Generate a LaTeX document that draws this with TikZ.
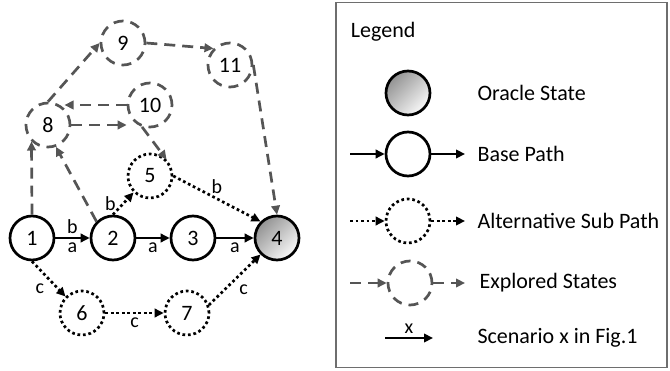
\documentclass[tikz,border=0pt]{standalone}
\usepackage{fontspec}
\setmainfont{Carlito}
\usetikzlibrary{arrows.meta,positioning}
\definecolor{exgray}{RGB}{85,85,85}
\definecolor{boxgray}{RGB}{110,110,110}

\begin{document}
\begin{tikzpicture}[
        x=1pt, y=1pt, on grid,
        >={Triangle[length=9pt,width=8.5pt]},
        every node/.style={font=\fontsize{20}{24}\selectfont},
        base/.style={circle,draw,line width=2.7pt,minimum size=44pt,inner sep=0pt,font=\fontsize{22}{26}\selectfont},
        alt/.style={base,dash pattern=on 2.7pt off 2.8pt},
        expl/.style={base,draw=exgray,dash pattern=on 10pt off 7pt},
        oracle/.style={base,top color=gray!85,bottom color=gray!5,shading angle=45},
        basepath/.style={->,line width=2.2pt},
        altpath/.style={->,line width=2.7pt,dash pattern=on 2.7pt off 2.8pt},
        explpath/.style={->,draw=exgray,line width=2.7pt,dash pattern=on 11pt off 7pt},
        legendtext/.style={anchor=west,font=\fontsize{22}{26}\selectfont}
    ]
    \useasboundingbox (0,0) rectangle (670,370);

%%
% Base path and alternative sub paths to the oracle state
    \node (s1) [base] at (32,132) {1};
    \node (s2) [base,right=81pt of s1] {2};
    \node (s3) [base,right=80pt of s2] {3};
    \node (s4) [oracle,right=84pt of s3] {4};
    \node (s5) [alt,above right=62pt and 37pt of s2] {5};
    \node (s6) [alt,below right=75pt and 50pt of s1] {6};
    \node (s7) [alt,right=105pt of s6] {7};
    \draw[basepath] (s1) -- node[above] {b} node[below] {a} (s2);
    \draw[basepath] (s2) -- node[below] {a} (s3);
    \draw[basepath] (s3) -- node[below] {a} (s4);
    \draw[altpath] (s2.north) -- node[left=3pt] {b} (s5.south west);
    \draw[altpath] (s5.east) -- node[above] {b} (s4.north west);
    \draw[altpath] (s1.south) -- node[below left] {c} (s6.north west);
    \draw[altpath] (s6) -- node[below] {c} (s7);
    \draw[altpath] (s7.20) -- node[below right] {c} (s4.south west);

%%
% Explored states
    \node (s8) [expl,above right=113pt and 16pt of s1] {8};
    \node (s9) [expl,above right=82pt and 75pt of s8] {9};
    \node (s10) [expl,above right=20pt and 102pt of s8] {10};
    \node (s11) [expl,below right=22pt and 107pt of s9] {11};
    \draw[explpath] (s1.north) -- (s8.south west);
    \draw[explpath] (s2.north west) -- (s8.290);
    \draw[explpath] (s8.north) -- (s9.west);
    \draw[explpath] (s9.east) -- (s11.north west);
    \draw[explpath] (s11.east) -- (s4.north);
    \draw[explpath] (s8.east) -- (s8.east -| s10.west);
    \draw[explpath] (s10.west) -- (s10.west -| s8.north east);
    \draw[explpath] (s10.250) -- (s5.north east);

%%
% Legend
    \node (legend) [draw=boxgray,line width=1.2pt,minimum width=331pt,minimum height=365pt] at (501.5,185) {};
    \node (ltitle) [legendtext,below right=29.5pt and 12pt of legend.north west,anchor=west] {Legend};
    \node (loracle) [oracle,above left=92pt and 93.5pt of legend] {};
    \node (lbase) [base,below=61pt of loracle] {};
    \node (lalt) [alt,below=67pt of lbase] {};
    \node (lexpl) [expl,below right=62pt and 2pt of lalt] {};
    \node (bin) [coordinate,left=58pt of lbase] {};
    \node (bout) [coordinate,right=57pt of lbase] {};
    \node (ain) [coordinate,left=58pt of lalt] {};
    \node (aout) [coordinate,right=57pt of lalt] {};
    \node (ein) [coordinate,left=60pt of lexpl] {};
    \node (eout) [coordinate,right=55pt of lexpl] {};
    \node (sin) [coordinate,below left=55pt and 25pt of lexpl] {};
    \node (sout) [coordinate,right=48pt of sin] {};
    \draw[basepath] (bin) -- (lbase);
    \draw[basepath] (lbase) -- (bout);
    \draw[altpath] (ain) -- (lalt);
    \draw[altpath] (lalt) -- (aout);
    \draw[explpath] (ein) -- (lexpl);
    \draw[explpath] (lexpl) -- (eout);
    \draw[basepath] (sin) -- node[above] {x} (sout);
    \node (toracle) [legendtext,right=66pt of loracle,anchor=west] {Oracle State};
    \node (tbase) [legendtext,right=66pt of lbase,anchor=west] {Base Path};
    \node (talt) [legendtext,right=66pt of lalt,anchor=west] {Alternative Sub Path};
    \node (texpl) [legendtext,right=66pt of lexpl,anchor=west] {Explored States};
    \node (tscen) [legendtext,right=89pt of sin,anchor=west] {Scenario x in Fig.1};

\end{tikzpicture}
\end{document}
